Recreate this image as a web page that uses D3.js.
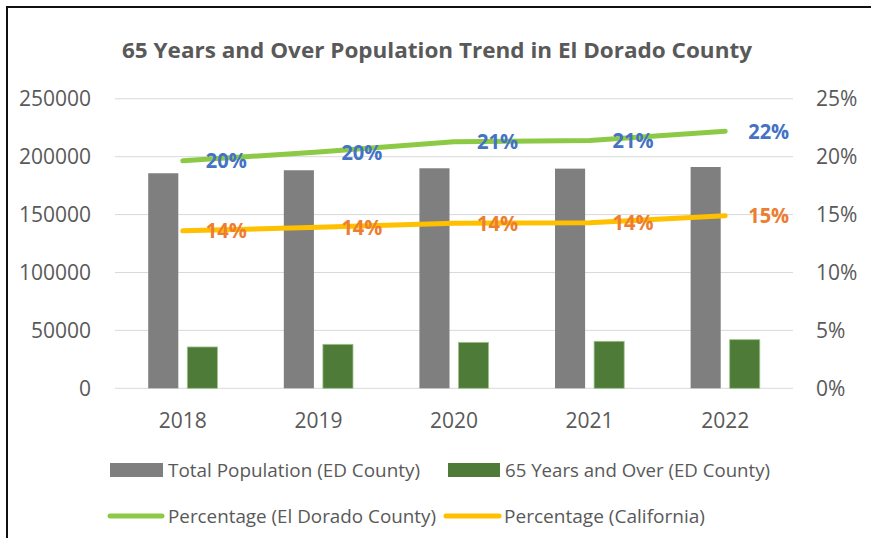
<!DOCTYPE html>
<html>
<head>
<meta charset="utf-8">
<script src="https://cdn.jsdelivr.net/npm/d3@7"></script>
<style>
    body { margin: 0; background: #fff; }
    text { font-family: "Open Sans", "Noto Sans", sans-serif; }
</style>
</head>
<body>
<div id="chart"></div>
<script>
const years = ['2018', '2019', '2020', '2021', '2022'];
const totalPop = [185700, 188300, 190000, 189700, 191100];
const seniorPop = [35700, 38000, 39700, 40600, 42000];
const pctCounty = [0.1965, 0.204, 0.213, 0.214, 0.222];
const pctState = [0.136, 0.139, 0.1425, 0.143, 0.149];
const leftTicks = [0, 50000, 100000, 150000, 200000, 250000];
const rightTicks = [0, 0.05, 0.10, 0.15, 0.20, 0.25];

const w = 871;
const h = 538;
const svg = d3.select('#chart').append('svg').attr('width', w).attr('height', h);

// frame
svg.append('path')
    .attr('d', 'M7,' + h + 'V7H' + w)
    .attr('fill', 'none')
    .attr('stroke', '#111')
    .attr('stroke-width', 2);

const x = d3.scaleBand().domain(years).range([115, 793]);
const xSub = d3.scaleBand().domain(['total', 'senior']).range([0, x.bandwidth()])
    .paddingInner(0.23).paddingOuter(0.85);
const y = d3.scaleLinear().domain([0, 250000]).range([388.3, 98.8]);
const yR = d3.scaleLinear().domain([0, 0.25]).range([388.3, 98.8]);

svg.append('text')
    .attr('x', 437).attr('y', 58)
    .attr('text-anchor', 'middle')
    .attr('font-size', 22).attr('font-weight', 'bold')
    .attr('fill', '#595959')
    .attr('textLength', 630).attr('lengthAdjust', 'spacingAndGlyphs')
    .text('65 Years and Over Population Trend in El Dorado County');

// gridlines
svg.append('g').selectAll('line')
    .data(leftTicks)
    .enter()
    .append('line')
    .attr('x1', 115).attr('x2', 793)
    .attr('y1', d => y(d)).attr('y2', d => y(d))
    .attr('stroke', '#d9d9d9').attr('stroke-width', 1);

const yAxis = d3.axisLeft(y).tickValues(leftTicks).tickSize(0).tickPadding(0).tickFormat(d3.format('d'));
svg.append('g')
    .attr('transform', 'translate(91,0)')
    .call(yAxis)
    .call(g => g.select('.domain').remove())
    .selectAll('text')
    .attr('font-size', 21).attr('fill', '#595959')
    .style('font-family', '"Open Sans", sans-serif');

const yAxisR = d3.axisRight(yR).tickValues(rightTicks).tickSize(0).tickPadding(0).tickFormat(d3.format('.0%'));
svg.append('g')
    .attr('transform', 'translate(816,0)')
    .call(yAxisR)
    .call(g => g.select('.domain').remove())
    .selectAll('text')
    .attr('font-size', 21).attr('fill', '#595959')
    .style('font-family', '"Open Sans", sans-serif');

const xAxis = d3.axisBottom(x).tickSize(0).tickPadding(0);
svg.append('g')
    .attr('transform', 'translate(0,413)')
    .call(xAxis)
    .call(g => g.select('.domain').remove())
    .selectAll('text')
    .attr('font-size', 21).attr('fill', '#595959')
    .style('font-family', '"Open Sans", sans-serif');

// bars
svg.append('g').selectAll('rect')
    .data(years)
    .enter()
    .append('rect')
    .attr('x', (d, i) => x(d) + xSub('total'))
    .attr('y', (d, i) => y(totalPop[i]))
    .attr('width', xSub.bandwidth())
    .attr('height', (d, i) => y(0) - y(totalPop[i]))
    .attr('fill', '#7f7f7f');

svg.append('g').selectAll('rect')
    .data(years)
    .enter()
    .append('rect')
    .attr('x', (d, i) => x(d) + xSub('senior'))
    .attr('y', (d, i) => y(seniorPop[i]))
    .attr('width', xSub.bandwidth())
    .attr('height', (d, i) => y(0) - y(seniorPop[i]))
    .attr('fill', '#4e7b37')
    .attr('stroke', '#9fc48a').attr('stroke-width', 0.8);

// lines
const cx = d => x(d) + x.bandwidth() / 2;
const lineCounty = d3.line().x((d, i) => cx(years[i])).y(d => yR(d));
const series = [
    { vals: pctCounty, color: '#8cca45', label: '#4472c4' },
    { vals: pctState, color: '#ffc000', label: '#ed7d31' }
];
series.forEach(s => {
    svg.append('path')
        .datum(s.vals)
        .attr('d', lineCounty)
        .attr('fill', 'none')
        .attr('stroke', s.color)
        .attr('stroke-width', 5)
        .attr('stroke-linecap', 'round')
        .attr('stroke-linejoin', 'round');
    svg.append('g').selectAll('text')
        .data(s.vals)
        .enter()
        .append('text')
        .attr('x', (d, i) => cx(years[i]) + 23)
        .attr('y', d => yR(d))
        .attr('dy', '0.36em')
        .attr('font-size', 21).attr('font-weight', 'bold')
        .attr('fill', s.label)
        .attr('textLength', 41).attr('lengthAdjust', 'spacingAndGlyphs')
        .text(d => d3.format('.0%')(d));
});

// legend
const legend = svg.append('g').attr('font-size', 19).attr('fill', '#595959');
legend.append('rect').attr('x', 110).attr('y', 463).attr('width', 53).attr('height', 14).attr('fill', '#7f7f7f');
legend.append('text').attr('x', 168).attr('y', 477)
    .attr('textLength', 252).attr('lengthAdjust', 'spacingAndGlyphs')
    .text('Total Population (ED County)');
legend.append('rect').attr('x', 448).attr('y', 463).attr('width', 52).attr('height', 14).attr('fill', '#4e7b37');
legend.append('text').attr('x', 505).attr('y', 477)
    .attr('textLength', 265).attr('lengthAdjust', 'spacingAndGlyphs')
    .text('65 Years and Over (ED County)');
legend.append('line').attr('x1', 110).attr('x2', 162).attr('y1', 516).attr('y2', 516)
    .attr('stroke', '#8cca45').attr('stroke-width', 5).attr('stroke-linecap', 'round');
legend.append('text').attr('x', 168).attr('y', 523)
    .attr('textLength', 268).attr('lengthAdjust', 'spacingAndGlyphs')
    .text('Percentage (El Dorado County)');
legend.append('line').attr('x1', 446).attr('x2', 499).attr('y1', 516).attr('y2', 516)
    .attr('stroke', '#ffc000').attr('stroke-width', 5).attr('stroke-linecap', 'round');
legend.append('text').attr('x', 504).attr('y', 523)
    .attr('textLength', 201).attr('lengthAdjust', 'spacingAndGlyphs')
    .text('Percentage (California)');
</script>
</body>
</html>
